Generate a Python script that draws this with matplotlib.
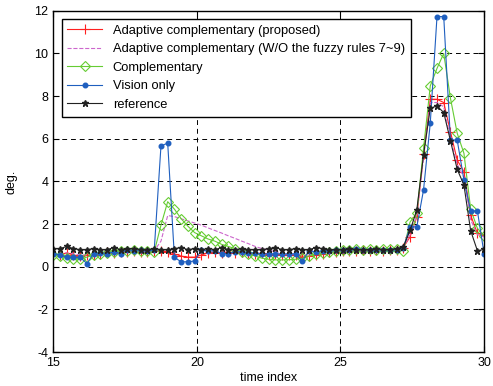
import numpy as np
import matplotlib
matplotlib.use('Agg')
import matplotlib.pyplot as plt

plt.rcParams['font.family'] = ['Liberation Sans', 'DejaVu Sans']
plt.rcParams['axes.unicode_minus'] = False

# time index samples (65 points between 15 and 30)
time_idx = np.linspace(15, 30, 65)

# reference signal
reference = [0.85, 0.85, 0.95, 0.85, 0.8, 0.8, 0.85, 0.8, 0.8, 0.9,
             0.8, 0.85, 0.85, 0.8, 0.8, 0.85, 0.8, 0.8, 0.85, 0.9,
             0.8, 0.85, 0.8, 0.85, 0.8, 0.9, 0.8, 0.8, 0.85, 0.8,
             0.8, 0.8, 0.85, 0.9, 0.8, 0.8, 0.85, 0.8, 0.8, 0.9,
             0.85, 0.8, 0.8, 0.8, 0.85, 0.8, 0.8, 0.8, 0.85, 0.8,
             0.8, 0.85, 0.93, 1.7, 2.66, 5.24, 7.43, 7.54, 7.23, 5.91,
             4.57, 3.83, 1.69, 0.75, 0.81]

# adaptive complementary (proposed)
adaptive = [0.6, 0.55, 0.65, 0.55, 0.5, 0.55, 0.55, 0.6, 0.7, 0.65,
            0.7, 0.7, 0.75, 0.7, 0.7, 0.75, 0.75, 0.7, 0.6, 0.5,
            0.45, 0.45, 0.55, 0.65, 0.7, 0.65, 0.7, 0.65, 0.7, 0.65,
            0.6, 0.65, 0.55, 0.6, 0.55, 0.55, 0.55, 0.45, 0.5, 0.55,
            0.6, 0.7, 0.7, 0.75, 0.75, 0.75, 0.8, 0.75, 0.8, 0.75,
            0.8, 0.8, 0.9, 1.4, 2.34, 5.3, 7.85, 7.85, 7.7, 6.33,
            5.0, 4.46, 2.42, 1.56, 1.48]

# adaptive complementary without fuzzy rules 7~9
adaptive_wo = [0.6, 0.6, 0.65, 0.6, 0.55, 0.55, 0.6, 0.65, 0.7, 0.65,
               0.7, 0.7, 0.75, 0.7, 0.7, 0.75, 1.2, 2.4, 2.35, 2.25,
               2.15, 2.05, 1.95, 1.82, 1.7, 1.58, 1.45, 1.33, 1.2, 1.08,
               0.95, 0.85, 0.78, 0.7, 0.65, 0.6, 0.6, 0.55, 0.55, 0.6,
               0.65, 0.7, 0.7, 0.75, 0.75, 0.75, 0.8, 0.75, 0.8, 0.75,
               0.8, 0.8, 0.9, 1.5, 2.4, 5.1, 7.7, 7.7, 7.5, 6.0,
               4.8, 4.2, 2.2, 1.5, 1.4]

# complementary filter
complementary = [0.55, 0.5, 0.4, 0.35, 0.35, 0.45, 0.55, 0.6, 0.65, 0.7,
                 0.75, 0.75, 0.8, 0.75, 0.75, 0.7, 1.95, 3.05, 2.7, 2.25,
                 1.9, 1.6, 1.45, 1.3, 1.2, 1.05, 0.95, 0.85, 0.7, 0.6,
                 0.5, 0.4, 0.35, 0.32, 0.32, 0.33, 0.35, 0.4, 0.5, 0.6,
                 0.65, 0.7, 0.75, 0.8, 0.8, 0.85, 0.8, 0.85, 0.8, 0.85,
                 0.85, 0.85, 0.75, 2.1, 2.5, 5.55, 8.48, 9.3, 10.0, 7.9,
                 6.26, 5.32, 2.7, 1.8, 1.45]

# vision only
vision = [0.62, 0.55, 0.44, 0.44, 0.44, 0.15, 0.62, 0.65, 0.62, 0.7,
          0.62, 0.8, 0.75, 0.8, 0.75, 0.78, 5.66, 5.8, 0.44, 0.23,
          0.23, 0.27, 0.78, 0.75, 0.75, 0.62, 0.62, 0.7, 0.7, 0.65,
          0.65, 0.6, 0.6, 0.6, 0.6, 0.6, 0.6, 0.26, 0.75, 0.7,
          0.75, 0.75, 0.8, 0.8, 0.8, 0.85, 0.8, 0.8, 0.8, 0.8,
          0.8, 0.8, 0.9, 1.87, 1.87, 3.6, 6.73, 11.73, 11.73, 5.94,
          5.94, 4.07, 2.62, 2.62, 0.6]

fig = plt.figure(figsize=(4.93, 3.86), dpi=100)
ax = fig.add_axes([0.108, 0.088, 0.874, 0.884])

ax.plot(time_idx, adaptive, color='#ff2020', marker='+', markersize=7,
        markeredgewidth=0.8, linewidth=0.8,
        label='Adaptive complementary (proposed)')
ax.plot(time_idx, adaptive_wo, color='#cc66cc', linestyle='--',
        linewidth=0.8, label='Adaptive complementary (W/O the fuzzy rules 7~9)')
ax.plot(time_idx, complementary, color='#66cc33', marker='D', markersize=5,
        markerfacecolor='none', markeredgewidth=0.8, linewidth=0.8,
        label='Complementary')
ax.plot(time_idx, vision, color='#1f5fbf', marker='o', markersize=3.3,
        linewidth=0.8, label='Vision only')
ax.plot(time_idx, reference, color='#222222', marker='*', markersize=5,
        linewidth=0.8, label='reference')

ax.set_xlim(15, 30)
ax.set_ylim(-4, 12)
ax.set_xticks([15, 20, 25, 30])
ax.set_yticks(range(-4, 13, 2))
ax.grid(True, color='black', linestyle=(0, (5, 4)), linewidth=0.7)
ax.tick_params(direction='in', top=True, right=True, labelsize=9, length=4)
for s in ax.spines.values():
    s.set_linewidth(1.0)

ax.set_xlabel('time index', fontsize=9, labelpad=2)
ax.set_ylabel('deg.', fontsize=9, labelpad=12)

leg = ax.legend(loc='upper left', bbox_to_anchor=(0.0195, 0.9757),
                borderaxespad=0, fontsize=9.3, fancybox=False, framealpha=1,
                edgecolor='black', handlelength=2.7, labelspacing=0.5,
                borderpad=0.45)
leg.get_frame().set_linewidth(1.0)

fig.savefig('out.png', dpi=100)
